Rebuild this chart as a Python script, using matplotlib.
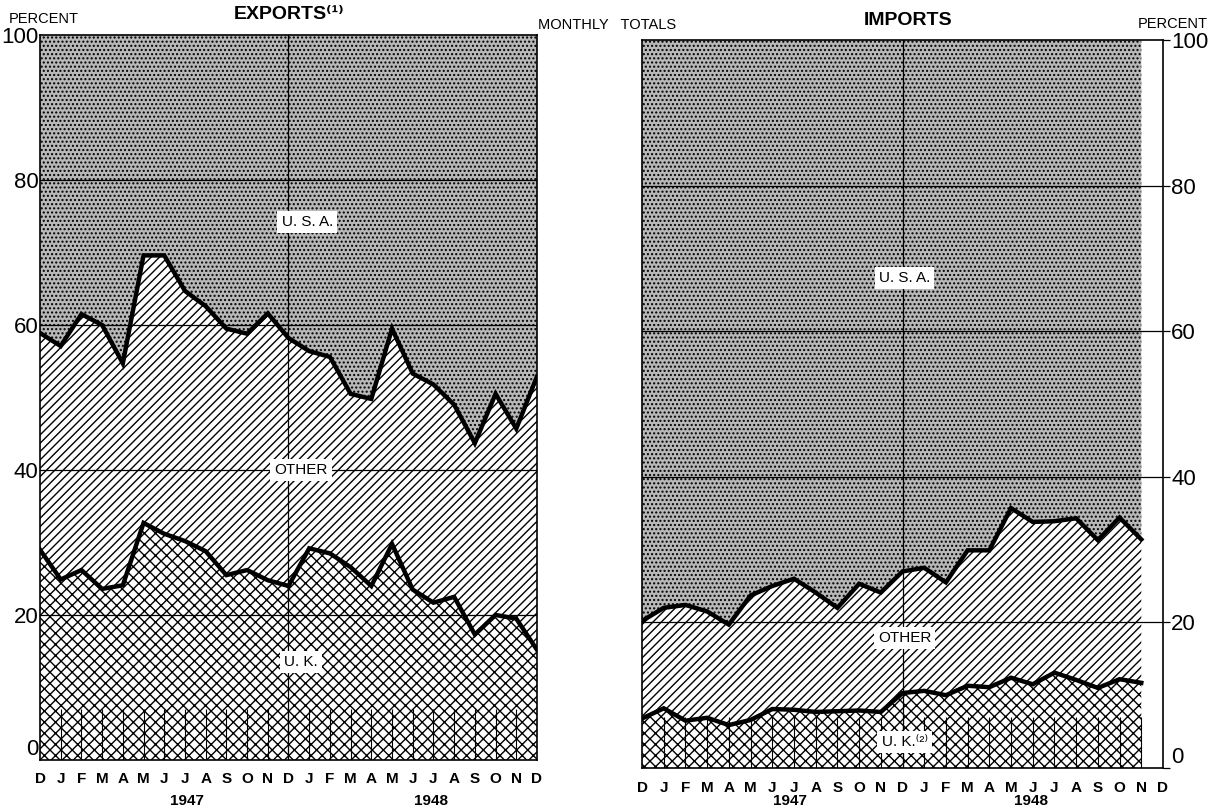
import matplotlib
matplotlib.use("Agg")
import matplotlib.pyplot as plt
import matplotlib.transforms as mtransforms

plt.rcParams["font.family"] = ["Liberation Sans", "DejaVu Sans"]
plt.rcParams["hatch.linewidth"] = 1.0

# month letters along the bottom, Dec 1946 .. Dec 1948
months = ["D", "J", "F", "M", "A", "M", "J", "J", "A", "S", "O", "N"] * 2 + ["D"]
years = ["1947", "1948"]
yticks = [0, 20, 40, 60, 80, 100]

# exports: cumulative shares (percent)
exp_uk = [29.0, 24.9, 26.2, 23.6, 24.1, 32.7, 31.2, 30.2, 28.8, 25.5, 26.2, 24.8,
          24.0, 29.2, 28.5, 26.6, 24.0, 29.8, 23.5, 21.7, 22.5, 17.3, 20.0, 19.5, 15.2]
exp_uk_other = [58.9, 57.1, 61.5, 60.0, 54.7, 69.6, 69.6, 64.7, 62.6, 59.5, 58.8, 61.6,
                58.2, 56.4, 55.6, 50.5, 49.8, 59.5, 53.3, 51.8, 49.0, 43.7, 50.5, 45.7, 52.9]

# imports: Dec 1946 .. Nov 1948
imp_uk = [6.8, 8.2, 6.5, 6.9, 5.9, 6.6, 8.1, 8.0, 7.7, 7.8, 7.9, 7.7,
          10.3, 10.6, 10.0, 11.3, 11.1, 12.4, 11.5, 13.1, 12.1, 11.0, 12.2, 11.7]
imp_uk_other = [20.2, 22.0, 22.4, 21.5, 19.7, 23.7, 25.0, 26.0, 24.1, 22.0, 25.3, 24.1,
                27.0, 27.5, 25.5, 29.9, 29.9, 35.7, 33.8, 33.9, 34.3, 31.3, 34.4, 31.4]


def draw_panel(ax, uk, uk_other, side, labels):
    x = list(range(len(uk)))
    # stacked hatched bands
    ax.fill_between(x, 0, uk, facecolor="white", edgecolor="black", hatch="xxx", linewidth=0)
    ax.fill_between(x, uk, uk_other, facecolor="white", edgecolor="black", hatch="////", linewidth=0)
    ax.fill_between(x, uk_other, 100, facecolor="#b8b8b8", edgecolor="black", hatch="....", linewidth=0)
    ax.plot(x, uk, color="black", linewidth=3.2, solid_joinstyle="miter", zorder=4)
    ax.plot(x, uk_other, color="black", linewidth=3.2, solid_joinstyle="miter", zorder=4)

    # grid
    for yv in [20, 40, 60, 80]:
        ax.axhline(yv, color="black", linewidth=0.9, zorder=3)
    ax.axvline(12, color="black", linewidth=0.9, zorder=3)
    # short month marks at the bottom
    ax.vlines(range(1, len(months) - 1), 0, 7, color="black", linewidth=0.8, zorder=3)

    ax.set_xlim(0, 24)
    ax.set_ylim(0, 100)
    ax.set_xticks(range(len(months)))
    ax.set_xticklabels(months, fontsize=11, fontweight="bold")
    ax.tick_params(axis="x", length=0, pad=9)
    ax.set_yticks(yticks)
    ax.set_yticklabels([str(v) for v in yticks], fontsize=16)
    if side == "right":
        ax.yaxis.tick_right()
        ax.tick_params(axis="y", length=5, width=0.9, pad=1, direction="out")
    else:
        ax.tick_params(axis="y", length=0, pad=1)
    ax.get_yticklabels()[0].set_va("bottom")
    for sp in ax.spines.values():
        sp.set_linewidth(1.2)

    trans = mtransforms.blended_transform_factory(ax.transData, ax.figure.transFigure)
    for xv, yr in zip(labels["year_x"], years):
        ax.text(xv, 0.012, yr, transform=trans, ha="center", va="center",
                fontsize=11, fontweight="bold")

    box = dict(facecolor="white", edgecolor="none", pad=3)
    for txt, xv, yv in labels["bands"]:
        ax.text(xv, yv, txt, ha="center", va="center", fontsize=11, bbox=box, zorder=6)


fig = plt.figure(figsize=(12.16, 8.11), dpi=100)
ax1 = fig.add_axes([0.0329, 0.0629, 0.4087, 0.8939])
ax2 = fig.add_axes([0.528, 0.0530, 0.4284, 0.8977])

draw_panel(ax1, exp_uk, exp_uk_other, "left",
           {"year_x": [7.1, 18.9],
            "bands": [("U. S. A.", 12.9, 74.2), ("OTHER", 12.6, 40), ("U. K.", 12.6, 13.5)]})
draw_panel(ax2, imp_uk, imp_uk_other, "right",
           {"year_x": [6.8, 17.9],
            "bands": [("U. S. A.", 12.1, 67.3), ("OTHER", 12.1, 17.9), ("U. K.\u207d\u00b2\u207e", 12.1, 3.6)]})

fig.text(0.007, 0.976, "PERCENT", ha="left", va="center", fontsize=10.5)
fig.text(0.238, 0.982, "EXPORTS\u207d\u00b9\u207e", ha="center", va="center", fontsize=14, fontweight="bold")
fig.text(0.499, 0.969, "MONTHLY   TOTALS", ha="center", va="center", fontsize=10.5)
fig.text(0.747, 0.975, "IMPORTS", ha="center", va="center", fontsize=14, fontweight="bold")
fig.text(0.993, 0.970, "PERCENT", ha="right", va="center", fontsize=10.5)

fig.savefig("out.png", dpi=100)
